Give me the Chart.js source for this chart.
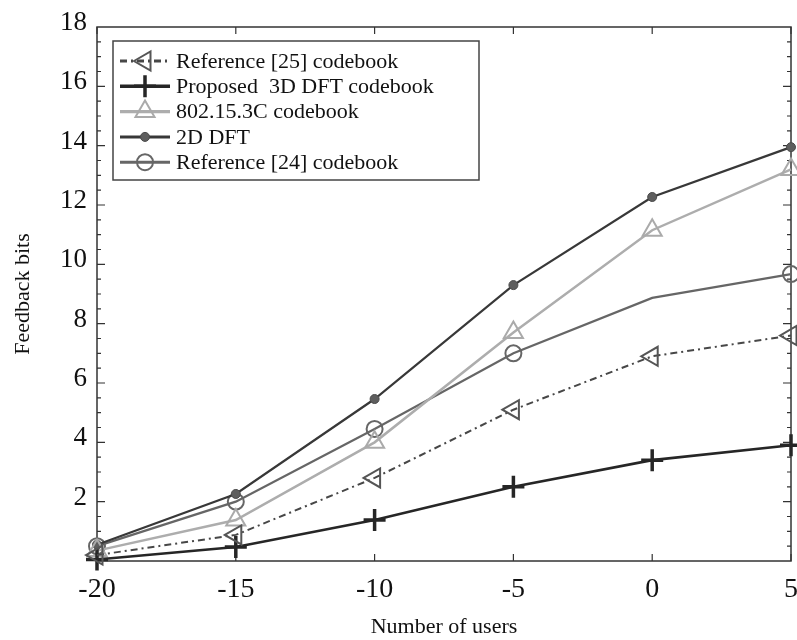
<!DOCTYPE html>
<html>
<head>
<meta charset="utf-8">
<script src="https://cdn.jsdelivr.net/npm/chart.js@4.4.1/dist/chart.umd.min.js"></script>
<style>
  html, body { margin: 0; padding: 0; background: #fff; }
  #wrap { width: 797px; height: 640px; }
</style>
</head>
<body>
<div id="wrap"><canvas id="fbChart" width="797" height="640"></canvas></div>
<script>
// data
const users = [-20, -15, -10, -5, 0, 5];
const ref25 = [0.2, 0.88, 2.8, 5.1, 6.9, 7.6];
const proposed3d = [0.05, 0.47, 1.38, 2.5, 3.4, 3.9];
const ieee802 = [0.35, 1.38, 4.0, 7.7, 11.15, 13.2];
const dft2d = [0.55, 2.26, 5.46, 9.3, 12.27, 13.95];
const ref24 = [0.5, 2.0, 4.45, 7.0, 8.87, 9.67];
const xTicks = [-20, -15, -10, -5, 0, 5];
const yTicks = [2, 4, 6, 8, 10, 12, 14, 16, 18];

const serif = '"Liberation Serif", "Times New Roman", serif';

function pts(vals) {
    return users.map((u, i) => ({ x: u, y: vals[i] }));
}

// inward ticks on all four sides + box
const frameTicks = {
    id: 'frameTicks',
    beforeDatasetsDraw(chart) {
        const { ctx, chartArea: a, scales } = chart;
        ctx.save();
        ctx.strokeStyle = '#333';
        ctx.lineWidth = 1.5;
        ctx.strokeRect(a.left, a.top, a.right - a.left, a.bottom - a.top);
        ctx.lineWidth = 1.2;
        ctx.beginPath();
        xTicks.forEach(v => {
            const px = scales.x.getPixelForValue(v);
            ctx.moveTo(px, a.bottom); ctx.lineTo(px, a.bottom - 7);
            ctx.moveTo(px, a.top); ctx.lineTo(px, a.top + 7);
        });
        for (let v = 0.5; v < 18; v += 0.5) {
            const py = scales.y.getPixelForValue(v);
            const len = (v % 2 === 0) ? 8 : 4;
            ctx.moveTo(a.left, py); ctx.lineTo(a.left + len, py);
            ctx.moveTo(a.right, py); ctx.lineTo(a.right - len, py);
        }
        ctx.stroke();
        ctx.restore();
    }
};

// matlab style legend box, top left
const boxLegend = {
    id: 'boxLegend',
    afterDraw(chart) {
        const { ctx } = chart;
        const x0 = 113, y0 = 41, w = 366, h = 139;
        ctx.save();
        ctx.fillStyle = '#fff';
        ctx.fillRect(x0, y0, w, h);
        ctx.strokeStyle = '#444';
        ctx.lineWidth = 1.5;
        ctx.strokeRect(x0, y0, w, h);
        chart.data.datasets.forEach((ds, i) => {
            const cy = 61 + i * 25.3;
            ctx.save();
            ctx.strokeStyle = ds.borderColor;
            ctx.lineWidth = ds.borderWidth + 0.8;
            ctx.setLineDash(ds.borderDash || []);
            ctx.beginPath();
            ctx.moveTo(120, cy); ctx.lineTo(170, cy);
            ctx.stroke();
            ctx.setLineDash([]);
            ctx.strokeStyle = ds.pointBorderColor;
            ctx.fillStyle = ds.pointBackgroundColor;
            ctx.lineWidth = ds.pointBorderWidth;
            const r = Array.isArray(ds.pointRadius) ? ds.pointRadius[0] : ds.pointRadius;
            if (Chart.helpers && Chart.helpers.drawPoint) {
                Chart.helpers.drawPoint(ctx, {
                    pointStyle: ds.pointStyle,
                    rotation: ds.pointRotation || 0,
                    radius: r,
                    borderWidth: ds.pointBorderWidth
                }, 145, cy);
            }
            ctx.restore();
            ctx.fillStyle = '#111';
            ctx.font = '22px ' + serif;
            ctx.textBaseline = 'middle';
            ctx.fillText(ds.label, 176, cy + 1);
        });
        ctx.restore();
    }
};

new Chart(document.getElementById('fbChart'), {
    type: 'line',
    data: {
        datasets: [
            {
                label: 'Reference [25] codebook',
                data: pts(ref25),
                borderColor: '#474747', borderWidth: 2, borderDash: [7, 4, 2, 4],
                pointStyle: 'triangle', pointRotation: -90, pointRadius: 11,
                pointBorderColor: '#555', pointBackgroundColor: 'rgba(0,0,0,0)', pointBorderWidth: 2
            },
            {
                label: 'Proposed  3D DFT codebook',
                data: pts(proposed3d),
                borderColor: '#262626', borderWidth: 2.6,
                pointStyle: 'cross', pointRadius: 11,
                pointBorderColor: '#262626', pointBackgroundColor: '#262626', pointBorderWidth: 3.5
            },
            {
                label: '802.15.3C codebook',
                data: pts(ieee802),
                borderColor: '#adadad', borderWidth: 2.5,
                pointStyle: 'triangle', pointRadius: 11,
                pointBorderColor: '#aaaaaa', pointBackgroundColor: 'rgba(0,0,0,0)', pointBorderWidth: 2
            },
            {
                label: '2D DFT',
                data: pts(dft2d),
                borderColor: '#383838', borderWidth: 2.2,
                pointStyle: 'circle', pointRadius: 4.5,
                pointBorderColor: '#4a4a4a', pointBackgroundColor: '#5e5e5e', pointBorderWidth: 1
            },
            {
                label: 'Reference [24] codebook',
                data: pts(ref24),
                borderColor: '#666', borderWidth: 2.2,
                pointStyle: 'circle', pointRadius: [8, 8, 8, 8, 0, 8],
                pointBorderColor: '#666', pointBackgroundColor: 'rgba(0,0,0,0)', pointBorderWidth: 2
            }
        ]
    },
    options: {
        responsive: false,
        animation: false,
        devicePixelRatio: 1,
        elements: { line: { tension: 0, fill: false } },
        datasets: { line: { clip: false } },
        layout: { autoPadding: false, padding: { top: 27, right: 6, left: 0, bottom: 0 } },
        plugins: { legend: { display: false }, tooltip: { enabled: false } },
        scales: {
            x: {
                type: 'linear', min: -20, max: 5,
                afterBuildTicks: s => { s.ticks = xTicks.map(v => ({ value: v })); },
                afterFit: s => { s.height = 79; s.paddingLeft = 0; s.paddingRight = 0; },
                grid: { display: false, drawTicks: false },
                border: { display: false },
                ticks: { color: '#111', font: { family: serif, size: 28 }, padding: 12, maxRotation: 0 },
                title: { display: true, text: 'Number of users', color: '#111',
                         font: { family: serif, size: 22 }, padding: { top: 0, bottom: 0 } }
            },
            y: {
                min: 0, max: 18,
                afterBuildTicks: s => { s.ticks = yTicks.map(v => ({ value: v })); },
                afterFit: s => { s.width = 97; s.paddingTop = 0; s.paddingBottom = 0; },
                grid: { display: false, drawTicks: false },
                border: { display: false },
                ticks: { color: '#111', font: { family: serif, size: 27 }, padding: 10, labelOffset: -4 },
                title: { display: true, text: 'Feedback bits', color: '#111',
                         font: { family: serif, size: 22 }, padding: { top: 10, bottom: 0 } }
            }
        }
    },
    plugins: [frameTicks, boxLegend]
});
</script>
</body>
</html>
